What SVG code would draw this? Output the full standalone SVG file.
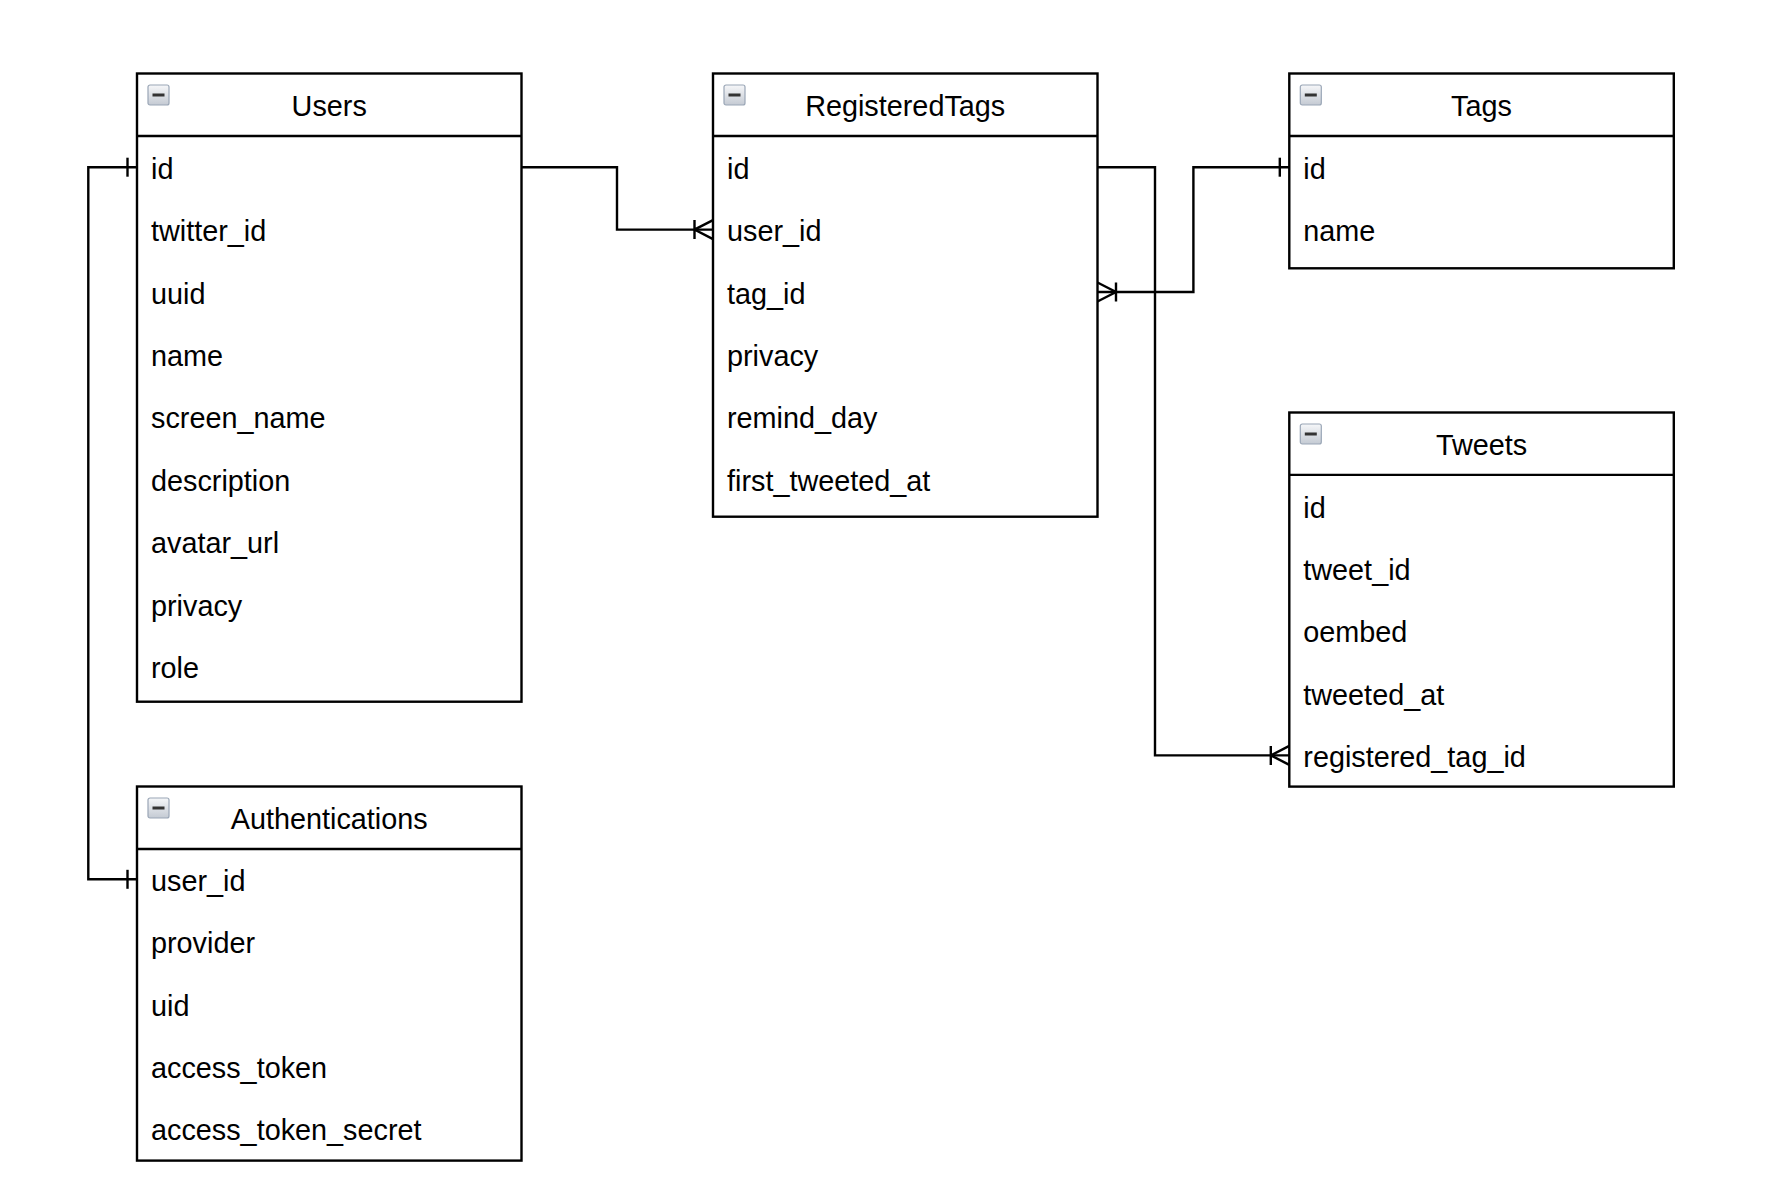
<svg xmlns="http://www.w3.org/2000/svg" width="1772" height="1198" viewBox="0 0 1772 1198">
<style>
.box{fill:#fff;stroke:#000;stroke-width:2.4}
.sep{stroke:#000;stroke-width:2.4}
.title{font-family:"Liberation Sans",Arial,sans-serif;font-size:28.8px;fill:#000;text-anchor:middle}
.field{font-family:"Liberation Sans",Arial,sans-serif;font-size:28.8px;fill:#000}
.conn{fill:none;stroke:#000;stroke-width:2.4}
</style>
<defs>
<linearGradient id="ig" x1="0" y1="0" x2="0" y2="1">
<stop offset="0" stop-color="#f6f7f9"/>
<stop offset="1" stop-color="#c4cad3"/>
</linearGradient>
<g id="icon">
<rect x="0.5" y="0.5" width="21" height="20" rx="2" fill="url(#ig)" stroke="#9aa6b6" stroke-width="1.2"/>
<rect x="5" y="9" width="12" height="3" fill="#333"/>
</g>
<marker id="crow" markerUnits="userSpaceOnUse" orient="auto-start-reverse" markerWidth="24" markerHeight="24" refX="0" refY="0" viewBox="-22 -12 24 24" overflow="visible">
<path d="M0,-9.5 L-18.5,0 L0,9.5 M-18.5,-9.5 V9.5" fill="none" stroke="#000" stroke-width="2.4"/>
</marker>
<marker id="one" markerUnits="userSpaceOnUse" orient="auto-start-reverse" markerWidth="24" markerHeight="24" refX="0" refY="0" viewBox="-22 -12 24 24" overflow="visible">
<path d="M-9.5,-9.5 V9.5" fill="none" stroke="#000" stroke-width="2.4"/>
</marker>
</defs>
<rect width="1772" height="1198" fill="#fff"/>

<g id="connectors">
<path class="conn" d="M521.5 167.2 H617 V229.6 H713" marker-end="url(#crow)"/>
<path class="conn" d="M1097.5 167.2 H1155 V755.4 H1289.3" marker-end="url(#crow)"/>
<path class="conn" d="M1289.3 167.2 H1193.4 V292 H1097.5" marker-start="url(#one)" marker-end="url(#crow)"/>
<path class="conn" d="M137 167.2 H88.3 V879.3 H137" marker-start="url(#one)" marker-end="url(#one)"/>
</g>

<g id="users">
<rect class="box" x="137" y="73.5" width="384.5" height="628.2"/>
<line class="sep" x1="137" y1="136" x2="521.5" y2="136"/>
<use href="#icon" x="147.5" y="84.5"/>
<text class="title" x="329.2" y="116.2">Users</text>
<text class="field" x="151" y="178.7">id</text>
<text class="field" x="151" y="241.1">twitter_id</text>
<text class="field" x="151" y="303.5">uuid</text>
<text class="field" x="151" y="365.9">name</text>
<text class="field" x="151" y="428.3">screen_name</text>
<text class="field" x="151" y="490.7">description</text>
<text class="field" x="151" y="553.1">avatar_url</text>
<text class="field" x="151" y="615.5">privacy</text>
<text class="field" x="151" y="677.9">role</text>
</g>

<g id="authentications">
<rect class="box" x="137" y="786.5" width="384.5" height="374.1"/>
<line class="sep" x1="137" y1="849" x2="521.5" y2="849"/>
<use href="#icon" x="147.5" y="797.5"/>
<text class="title" x="329.2" y="829.2">Authentications</text>
<text class="field" x="151" y="890.8">user_id</text>
<text class="field" x="151" y="953.2">provider</text>
<text class="field" x="151" y="1015.6">uid</text>
<text class="field" x="151" y="1078">access_token</text>
<text class="field" x="151" y="1140.4">access_token_secret</text>
</g>

<g id="registeredtags">
<rect class="box" x="713" y="73.5" width="384.5" height="443.2"/>
<line class="sep" x1="713" y1="136" x2="1097.5" y2="136"/>
<use href="#icon" x="723.5" y="84.5"/>
<text class="title" x="905.2" y="116.2">RegisteredTags</text>
<text class="field" x="727" y="178.7">id</text>
<text class="field" x="727" y="241.1">user_id</text>
<text class="field" x="727" y="303.5">tag_id</text>
<text class="field" x="727" y="365.9">privacy</text>
<text class="field" x="727" y="428.3">remind_day</text>
<text class="field" x="727" y="490.7">first_tweeted_at</text>
</g>

<g id="tags">
<rect class="box" x="1289.3" y="73.5" width="384.5" height="194.8"/>
<line class="sep" x1="1289.3" y1="136" x2="1673.8" y2="136"/>
<use href="#icon" x="1299.8" y="84.5"/>
<text class="title" x="1481.5" y="116.2">Tags</text>
<text class="field" x="1303.3" y="178.7">id</text>
<text class="field" x="1303.3" y="241.1">name</text>
</g>

<g id="tweets">
<rect class="box" x="1289.3" y="412.5" width="384.5" height="374.1"/>
<line class="sep" x1="1289.3" y1="474.9" x2="1673.8" y2="474.9"/>
<use href="#icon" x="1299.8" y="423.5"/>
<text class="title" x="1481.5" y="455.2">Tweets</text>
<text class="field" x="1303.3" y="517.6">id</text>
<text class="field" x="1303.3" y="580">tweet_id</text>
<text class="field" x="1303.3" y="642.4">oembed</text>
<text class="field" x="1303.3" y="704.8">tweeted_at</text>
<text class="field" x="1303.3" y="767.2">registered_tag_id</text>
</g>
</svg>
